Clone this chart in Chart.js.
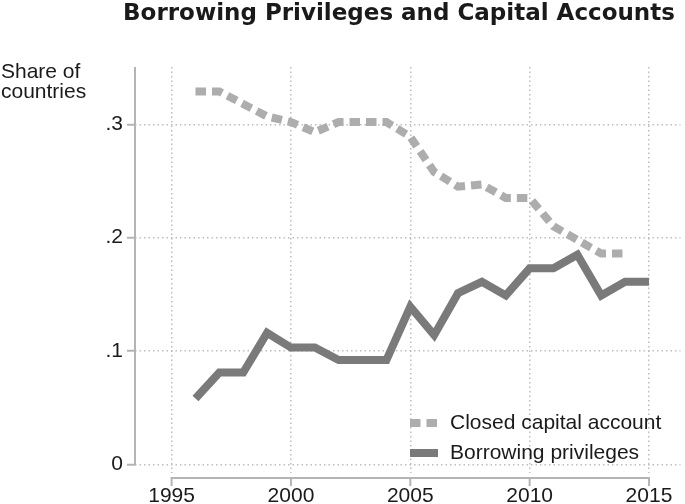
<!DOCTYPE html>
<html>
<head>
<meta charset="utf-8">
<script src="https://cdn.jsdelivr.net/npm/chart.js@4"></script>
<style>
  html, body { margin: 0; padding: 0; background: #fff; }
  canvas { display: block; }
</style>
</head>
<body>
<canvas id="chart" width="685" height="504"></canvas>
<script>
// data
const years = [1996, 1997, 1998, 1999, 2000, 2001, 2002, 2003, 2004, 2005,
               2006, 2007, 2008, 2009, 2010, 2011, 2012, 2013, 2014, 2015];
const closedShare = [0.329, 0.329, 0.318, 0.307, 0.302, 0.293, 0.302, 0.302, 0.302, 0.289,
                     0.258, 0.245, 0.247, 0.235, 0.235, 0.210, 0.198, 0.186, 0.186, null];
const borrowShare = [0.058, 0.081, 0.081, 0.116, 0.103, 0.103, 0.092, 0.092, 0.092, 0.139,
                     0.114, 0.151, 0.161, 0.149, 0.173, 0.173, 0.185, 0.149, 0.161, 0.161];
const seriesLabels = ['Closed capital account', 'Borrowing privileges'];
const xTicks = [1995, 2000, 2005, 2010, 2015];
const yTicks = [0, 0.1, 0.2, 0.3];
const yTickLabels = ['0', '.1', '.2', '.3'];

const toPoints = vals => years.map((yr, i) => ({ x: yr, y: vals[i] }));

Chart.defaults.font.family = "'Liberation Sans', Arial, sans-serif";
Chart.defaults.font.size = 21;
Chart.defaults.color = '#1a1a1a';

const gridStyle = {
  color: '#bdbdbd',
  lineWidth: 1.5
};
const dotted = { display: false, dash: [1.5, 3] };

// axis lines drawn Stata-style (partial lengths)
const axisLines = {
  id: 'axisLines',
  afterDraw(chart) {
    const { ctx, chartArea, scales: { x, y } } = chart;
    ctx.save();
    ctx.strokeStyle = '#b4b4b4';
    ctx.lineWidth = 2;
    ctx.beginPath();
    ctx.moveTo(chartArea.left, chartArea.top);
    ctx.lineTo(chartArea.left, y.getPixelForValue(0) + 1);
    ctx.stroke();
    const axisY = chartArea.bottom + 5;
    const x0 = x.getPixelForValue(xTicks[0]);
    const x1 = x.getPixelForValue(xTicks[xTicks.length - 1]);
    ctx.beginPath();
    ctx.moveTo(x0 - 1, axisY);
    ctx.lineTo(x1 + 1, axisY);
    xTicks.forEach(t => {
      const px = x.getPixelForValue(t);
      ctx.moveTo(px, axisY);
      ctx.lineTo(px, axisY + 8);
    });
    ctx.stroke();
    ctx.restore();
  }
};

// title, y title at top-left and legend inside the plot
const extraText = {
  id: 'extraText',
  afterDraw(chart) {
    const { ctx } = chart;
    ctx.save();
    ctx.fillStyle = '#1a1a1a';
    ctx.textBaseline = 'alphabetic';
    ctx.textAlign = 'center';
    ctx.font = "bold 23px 'DejaVu Sans', sans-serif";
    ctx.fillText('Borrowing Privileges and Capital Accounts', 399, 20);

    ctx.font = "21px 'Liberation Sans', Arial, sans-serif";
    ctx.textAlign = 'left';
    ctx.fillText('Share of', 1, 78);
    ctx.fillText('countries', 1, 98);

    ctx.textBaseline = 'middle';
    chart.data.datasets.forEach((ds, i) => {
      const cy = 423 + i * 30;
      ctx.strokeStyle = ds.borderColor;
      ctx.lineWidth = ds.borderWidth;
      ctx.setLineDash(ds.borderDash || []);
      ctx.beginPath();
      ctx.moveTo(410, cy);
      ctx.lineTo(438, cy);
      ctx.stroke();
      ctx.fillText(ds.label, 450, cy);
    });
    ctx.restore();
  }
};

new Chart(document.getElementById('chart'), {
  type: 'line',
  data: {
    datasets: [
      {
        label: seriesLabels[0],
        data: toPoints(closedShare),
        borderColor: '#adadad',
        borderWidth: 8,
        borderDash: [10.5, 6],
        pointRadius: 0,
        fill: false,
        tension: 0
      },
      {
        label: seriesLabels[1],
        data: toPoints(borrowShare),
        borderColor: '#7a7a7a',
        borderWidth: 8,
        pointRadius: 0,
        fill: false,
        tension: 0
      }
    ]
  },
  options: {
    responsive: false,
    animation: false,
    layout: { padding: { left: 0, right: 3, top: 67, bottom: 0 } },
    plugins: {
      legend: { display: false },
      tooltip: { enabled: false },
      title: { display: false }
    },
    scales: {
      x: {
        type: 'linear',
        min: 1993.466,
        max: 2016.32,
        afterBuildTicks: s => { s.ticks = xTicks.map(v => ({ value: v })); },
        afterFit: s => { s.height = 31; },
        border: dotted,
        grid: { ...gridStyle, drawTicks: false },
        ticks: {
          padding: 12.5,
          maxRotation: 0,
          font: { size: 21, lineHeight: 1 },
          callback: v => String(v)
        }
      },
      y: {
        min: -0.00768,
        max: 0.3506,
        afterBuildTicks: s => { s.ticks = yTicks.map(v => ({ value: v })); },
        afterFit: s => { s.width = 135; },
        border: dotted,
        grid: {
          ...gridStyle,
          tickLength: 8,
          tickColor: '#b4b4b4',
          tickWidth: 2,
          tickBorderDash: []
        },
        ticks: {
          padding: 4,
          font: { size: 21, lineHeight: 1 },
          callback: v => yTickLabels[yTicks.indexOf(v)] ?? ''
        }
      }
    }
  },
  plugins: [axisLines, extraText]
});
</script>
</body>
</html>
